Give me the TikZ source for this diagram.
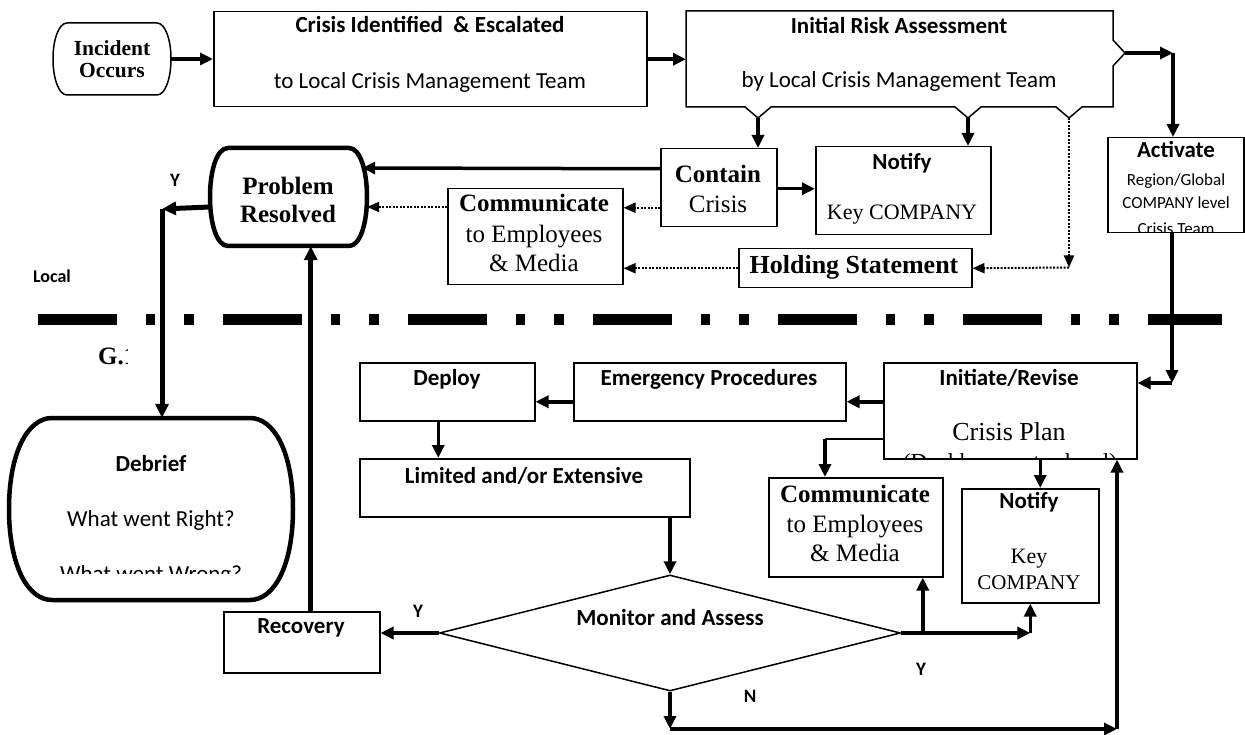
\documentclass[tikz,border=0pt]{standalone}
\usepackage{fontspec}
\setmainfont{Liberation Serif}
\newfontfamily\calfont{Carlito}
\usetikzlibrary{arrows.meta,shapes.geometric,calc}

% font shortcuts (sizes in pt, one pt per pixel of the drawing)
\newcommand\fSB{\calfont\bfseries\fontsize{23}{27}\selectfont}
\newcommand\fSR{\calfont\fontsize{23}{27}\selectfont}
\newcommand\fSS{\calfont\fontsize{17}{20}\selectfont}
\newcommand\fSL{\calfont\bfseries\fontsize{19}{22}\selectfont}
\newcommand\fRB{\bfseries\fontsize{25}{29}\selectfont}
\newcommand\fRR{\fontsize{25}{29}\selectfont}
\newcommand\fRK{\fontsize{22}{26}\selectfont}

\begin{document}
\begin{tikzpicture}[x=1pt,y=-1pt,
  box/.style={draw,line width=1.5pt,rectangle,inner sep=0pt,anchor=north west},
  frame/.style={rectangle,inner sep=0pt},
  txt/.style={anchor=base,inner sep=0pt},
  flow/.style={line width=3.5pt,-{Triangle[length=13pt,width=12pt]}},
  heavy/.style={line width=5pt,-{Triangle[length=14pt,width=13pt]}},
  bar/.style={line width=2.5pt},
  dots/.style={line width=2pt,dash pattern=on 2pt off 1.5pt,-{Triangle[length=12pt,width=10pt]}},
  notch/.style={line width=1.5pt,line join=miter}]

\fill[white] (0,0) rectangle (1245,735);
\path[use as bounding box] (0,0) rectangle (1245,735);

% ---------- local level ----------
\node[frame,minimum width=118pt,minimum height=72pt] (inc) at (112,59) {};
\draw[line width=1.5pt] (67,23) -- (157,23) .. controls (165,23) and (171,39) .. (171,59)
  .. controls (171,79) and (165,95) .. (157,95) -- (67,95)
  .. controls (59,95) and (53,79) .. (53,59) .. controls (53,39) and (59,23) .. (67,23) -- cycle;
\node[txt,font=\bfseries\fontsize{21.5}{24}\selectfont] (incA) at (112,56) {Incident};
\node[txt,font=\bfseries\fontsize{21.5}{24}\selectfont] (incB) at (112,78) {Occurs};

\node[box,minimum width=433pt,minimum height=95pt] (crisis) at (213,11) {};
\node[txt,font=\fSB] (crisisA) at (430,33) {Crisis Identified~~\& Escalated};
\node[txt,font=\fSR] (crisisB) at (430,89) {to Local Crisis Management Team};

% risk assessment box with its callout notches
\node[box,draw=none,minimum width=427pt,minimum height=96pt] (risk) at (686,11) {};
\draw[notch] (686,11) -- (1113,11) -- (1113,40) -- (1125,53) -- (1113,66) -- (1113,107)
  -- (1082,107) -- (1069,118) -- (1056,107) -- (981,107) -- (968,118) -- (955,107)
  -- (771,107) -- (758,118) -- (745,107) -- (686,107) -- cycle;
\coordinate (rn) at (1125,53);
\coordinate (rc) at (1173,53);
\coordinate (n1) at (758,118);
\coordinate (n2) at (968,118);
\coordinate (n3) at (1069,118);
\node[txt,font=\fSB] (riskA) at (899,34) {Initial Risk Assessment};
\node[txt,font=\fSR] (riskB) at (899,88) {by Local Crisis Management Team};

\node[frame,minimum width=157pt,minimum height=98pt] (prob) at (288.5,197) {};
\draw[line width=4.5pt] (228,148) -- (349,148) .. controls (360,148) and (367,170) .. (367,197)
  .. controls (367,224) and (360,246) .. (349,246) -- (228,246)
  .. controls (217,246) and (210,224) .. (210,197) .. controls (210,170) and (217,148) .. (228,148) -- cycle;
\node[txt,font=\fRB] (probA) at (288,195) {Problem};
\node[txt,font=\fRB] (probB) at (288,223) {Resolved};

\node[box,minimum width=116pt,minimum height=78pt] (cont) at (660,148) {};
\node[txt,font=\fRB] (contA) at (718,183) {Contain};
\node[txt,font=\fRR] (contB) at (718,213) {Crisis};

\node[box,minimum width=175pt,minimum height=88pt] (notA) at (815,146) {};
\node[txt,font=\fSB] (notAa) at (902,170) {Notify};
\node[txt,font=\fRK] (notAb) at (902,220) {Key COMPANY};
\begin{scope}
  \clip (815,146) rectangle (990,234);
  \node[txt,font=\fRK] (notAc) at (902,251) {Contacts};
\end{scope}

\node[box,minimum width=175pt,minimum height=96pt] (commA) at (447,188) {};
\node[txt,font=\fRB] (commAa) at (534,212) {Communicate};
\node[txt,font=\fRR] (commAb) at (534,243) {to Employees};
\node[txt,font=\fRR] (commAc) at (534,272) {\& Media};

\node[box,minimum width=233pt,minimum height=39pt] (hold) at (738,248) {};
\node[txt,font=\bfseries\fontsize{26}{30}\selectfont] (holdA) at (854,274) {Holding Statement};
\coordinate (hc) at (1069,267.5);

\node[box,minimum width=136pt,minimum height=95pt] (act) at (1107,137) {};
\node[txt,font=\fSB] (actA) at (1176,158) {Activate};
\node[txt,font=\fSS] (actB) at (1176,186) {Region/Global};
\node[txt,font=\fSS] (actC) at (1176,209) {COMPANY level};
\begin{scope}
  \clip (1107,137) rectangle (1243,232);
  \node[txt,font=\fSS] (actD) at (1176,235) {Crisis Team};
\end{scope}

\node[txt,font=\fSL] (ylab1) at (175,187) {Y};
\node[txt,font=\calfont\bfseries\fontsize{18}{21}\selectfont] (local) at (52,283) {Local};

% level separator
\draw[line width=11pt,dash pattern=on 79pt off 29pt on 9pt off 29pt on 10pt off 29pt]
  (38,320) -- (1222,320);

\begin{scope}
  \clip (90,335) rectangle (127.5,375);
  \node[txt,anchor=base west,font=\fRB] (glob) at (98,364) {G.1};
\end{scope}

% ---------- global level ----------
\node[box,minimum width=253pt,minimum height=96pt] (init) at (883,362) {};
\node[txt,font=\fSB] (initA) at (1009,385) {Initiate/Revise};
\node[txt,font=\fontsize{26}{30}\selectfont] (initB) at (1009,440) {Crisis Plan};
\begin{scope}
  \clip (883,362) rectangle (1136,458);
  \node[txt,font=\fontsize{23}{27}\selectfont] (initC) at (1010,469) {(Deal by country level)};
\end{scope}

\node[box,minimum width=272pt,minimum height=58pt] (emerg) at (573,362) {};
\node[txt,font=\fSB] (emergA) at (709,385) {Emergency Procedures};

\node[box,minimum width=175pt,minimum height=58pt] (depl) at (359,362) {};
\node[txt,font=\fSB] (deplA) at (447,385) {Deploy};

\node[box,minimum width=330pt,minimum height=58pt] (lim) at (359,458) {};
\node[txt,font=\fSB] (limA) at (524,483) {Limited and/or Extensive};

\node[box,minimum width=174pt,minimum height=99pt] (commB) at (768,477) {};
\node[txt,font=\fRB] (commBa) at (855,502) {Communicate};
\node[txt,font=\fRR] (commBb) at (855,532) {to Employees};
\node[txt,font=\fRR] (commBc) at (855,561) {\& Media};

\node[box,minimum width=137pt,minimum height=114pt] (notB) at (961,488) {};
\node[txt,font=\fSB] (notBa) at (1029,508) {Notify};
\node[txt,font=\fRK] (notBb) at (1029,563) {Key};
\node[txt,font=\fontsize{21}{24}\selectfont] (notBc) at (1029,589) {COMPANY};

\node[draw,diamond,line width=1.5pt,inner sep=0pt,minimum width=461pt,minimum height=116pt] (mon) at (670,633) {};
\node[txt,font=\fSB] (monA) at (670,625) {Monitor and Assess};

\node[box,minimum width=156pt,minimum height=61pt] (rec) at (223,611) {};
\node[txt,font=\fSB] (recA) at (301,633) {Recovery};

\node[frame,minimum width=284pt,minimum height=182pt] (deb) at (151,509) {};
\draw[line width=4.5pt] (52,418) -- (250,418) .. controls (274,418) and (293,452) .. (293,509)
  .. controls (293,566) and (274,600) .. (250,600) -- (52,600)
  .. controls (28,600) and (9,566) .. (9,509) .. controls (9,452) and (28,418) .. (52,418) -- cycle;
\node[txt,font=\fSB] (debA) at (151,471) {Debrief};
\node[txt,font=\fSR] (debB) at (151,526) {What went Right?};
\begin{scope}
  \clip (20,540) rectangle (280,573);
  \node[txt,font=\fSR] (debC) at (151,581) {What went Wrong?};
\end{scope}

\node[txt,font=\fSL] (ylab2) at (418,617) {Y};
\node[txt,font=\fSL] (ylab3) at (921,675) {Y};
\node[txt,font=\fSL] (nlab) at (750,702) {N};

% ---------- connectors ----------
\draw[flow] (inc.east) -- (inc.east -| crisis.west);
\draw[flow] (crisis.east) -- (crisis.east -| risk.west);
\draw[flow] (rn) -- (rc);
\draw[flow] (rc) -- (rc |- act.north);
\draw[flow] (n1) -- (n1 |- cont.north);
\draw[flow] (n2) -- (n2 |- notA.north);
\draw[dots] (n3) -- (hc);
\draw[dots] (hc) -- (hold.east);
\draw[flow] ([yshift=-1pt]cont.east) -- ([yshift=-1pt]cont.east -| notA.west);
\draw[flow] ([yshift=19pt]cont.west) -- ($(prob.east)+(-5,-29)$);
\draw[dots] ([yshift=-20pt]cont.west) -- ([yshift=-20pt]cont.west -| commA.east);
\draw[dots] (hold.west) -- (hold.west -| commA.east);
\draw[dots] ([yshift=-10pt]prob.east -| commA.west) -- ([yshift=-10pt]prob.east);
\coordinate (yb) at (162,209);
\draw[heavy] ([yshift=-10pt]prob.west) -- (yb);
\draw[heavy] (yb) -- (yb |- deb.north);

\coordinate (ac) at (1172,383);
\draw[flow] (ac |- act.south) -- (ac);
\draw[flow] (ac) -- (ac -| init.east);
\draw[flow] ([yshift=9pt]init.west) -- ([yshift=9pt]init.west -| emerg.east);
\draw[flow] ([yshift=-10pt]emerg.west) -- ([yshift=-10pt]emerg.west -| depl.east);
\draw[flow] ([xshift=-9pt]depl.south) -- ([xshift=-9pt]depl.south |- lim.north);
\coordinate (cb) at (825,439);
\draw[bar] (cb -| init.west) -- (cb);
\draw[flow] (cb) -- (cb |- commB.north);
\draw[flow] ([xshift=10pt]notB.north |- init.south) -- ([xshift=10pt]notB.north);
\draw[flow] (mon.north |- lim.south) -- (mon.north);
\draw[flow] (mon.west) -- (mon.west -| rec.east);
\draw[heavy] ([xshift=9pt]rec.north) -- ([xshift=9pt]rec.north |- prob.south);
\coordinate (mr) at (notB.south |- mon.east);
\draw[flow] (mon.east) -- (mr);
\draw[flow] (mr) -- (notB.south);
\draw[flow] ([xshift=67pt]commB.south |- mon.east) -- ([xshift=67pt]commB.south);
\coordinate (mb) at (670,729);
\coordinate (mc) at (1117,729);
\draw[flow] (mon.south) -- (mb);
\draw[flow] (mb) -- (mc);
\draw[flow] (mc) -- (mc |- init.south);

\end{tikzpicture}
\end{document}
